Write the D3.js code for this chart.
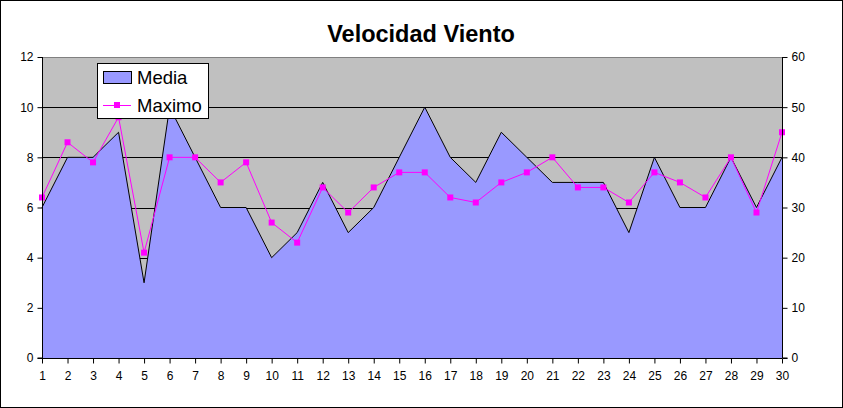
<!DOCTYPE html>
<html><head><meta charset="utf-8">
<script src="https://cdn.jsdelivr.net/npm/d3@7"></script>
<style>
html,body{margin:0;padding:0;background:#fff;}
svg{display:block;font-family:"Liberation Sans",Arial,sans-serif;}
</style></head>
<body>
<svg id="chart" width="843" height="408"></svg>
<script>
const days = d3.range(1, 31);
const media = [6,8,8,9,3,10,8,6,6,4,5,7,5,6,8,10,8,7,9,8,7,7,7,5,8,6,6,8,6,8];
const maximo = [32,43,39,48,21,40,40,35,39,27,23,34,29,34,37,37,32,31,35,37,40,34,34,31,37,35,32,40,29,45];
const leftTicks = [0,2,4,6,8,10,12];
const rightTicks = [0,10,20,30,40,50,60];
const seriesNames = ["Media","Maximo"];
const title = "Velocidad Viento";

const svg = d3.select("#chart");
svg.append("rect").attr("x",0.5).attr("y",0.5).attr("width",842).attr("height",407)
  .attr("fill","#fff").attr("stroke","#000");

const L=42, R=782, T=57, B=358;
const x = d3.scalePoint().domain(days).range([L,R]);
const yL = d3.scaleLinear().domain([0,12]).range([B,T]);
const yR = d3.scaleLinear().domain([0,60]).range([B,T]);

svg.append("text").attr("x",421).attr("y",42).attr("text-anchor","middle")
  .attr("font-size",23.5).attr("font-weight","bold").text(title);

svg.append("rect").attr("x",L).attr("y",T).attr("width",R-L).attr("height",B-T).attr("fill","#C0C0C0");
svg.append("line").attr("x1",L).attr("x2",R).attr("y1",T+0.5).attr("y2",T+0.5).attr("stroke","#808080");

// gridlines
svg.append("g").selectAll("line").data(leftTicks.filter(d=>d>0&&d<12)).join("line")
  .attr("x1",L).attr("x2",R).attr("y1",d=>Math.round(yL(d))+0.5).attr("y2",d=>Math.round(yL(d))+0.5)
  .attr("stroke","#000");

// area
const area = d3.area().x((d,i)=>x(days[i])).y0(B).y1(d=>yL(d));
svg.append("path").datum(media).attr("d",area).attr("fill","#9999FF");
const line = d3.line().x((d,i)=>x(days[i])).y(d=>yL(d));
svg.append("path").datum(media).attr("d",line).attr("fill","none").attr("stroke","#000").attr("stroke-width",1);

// maximo
const lineR = d3.line().x((d,i)=>x(days[i])).y(d=>yR(d));
svg.append("path").datum(maximo).attr("d",lineR).attr("fill","none").attr("stroke","#FF00FF").attr("stroke-width",1);
svg.append("g").selectAll("rect").data(maximo).join("rect")
  .attr("x",(d,i)=>x(days[i])-3).attr("y",d=>yR(d)-3).attr("width",6).attr("height",6).attr("fill","#FF00FF");

// axes
const axL = d3.axisLeft(yL).tickValues(leftTicks).tickSize(5).tickPadding(4);
const gL = svg.append("g").attr("transform",`translate(${L+0.5},0)`).call(axL);
const axR = d3.axisRight(yR).tickValues(rightTicks).tickSize(5).tickPadding(4);
const gR = svg.append("g").attr("transform",`translate(${R+0.5},0)`).call(axR);
const axB = d3.axisBottom(x).tickSize(5).tickPadding(8);
const gB = svg.append("g").attr("transform",`translate(0,${B+0.5})`).call(axB);
[gL,gR,gB].forEach(g=>{
  g.select(".domain").attr("stroke","#000");
  g.selectAll(".tick line").attr("stroke","#000");
  g.selectAll("text").attr("font-size",12).attr("fill","#000").attr("font-family","'Liberation Sans',Arial,sans-serif");
});
gL.select(".domain").attr("d",`M-5,${B}H0V${T}`);
gR.select(".domain").attr("d",`M5,${B}H0V${T}`);
gB.select(".domain").attr("d",`M${L},0H${R}`);

// legend
const lg = svg.append("g");
lg.append("rect").attr("x",97.5).attr("y",63.5).attr("width",111).attr("height",55).attr("fill","#fff").attr("stroke","#000");
lg.append("rect").attr("x",103.5).attr("y",71.5).attr("width",28).attr("height",12).attr("fill","#9999FF").attr("stroke","#000");
lg.append("text").attr("x",137).attr("y",84).attr("font-size",18.5).text(seriesNames[0]);
lg.append("line").attr("x1",103).attr("x2",131).attr("y1",105.5).attr("y2",105.5).attr("stroke","#FF00FF");
lg.append("rect").attr("x",114).attr("y",102).attr("width",6).attr("height",6).attr("fill","#FF00FF");
lg.append("text").attr("x",137).attr("y",112).attr("font-size",18.5).text(seriesNames[1]);
</script>
</body></html>
